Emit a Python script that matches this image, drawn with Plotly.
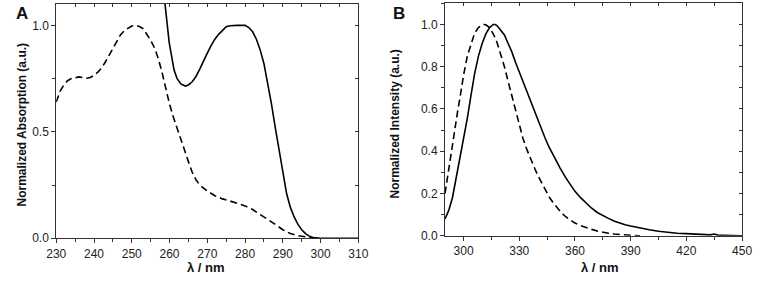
import plotly.graph_objects as go

# ---------------- Panel A: absorption ----------------
a_solid_x = [258.5, 259.1, 259.9, 260.5, 261.2, 262.0, 263.0, 264.2, 265.0, 266.0, 267.0, 268.0,
             269.0, 270.0, 271.0, 272.0, 273.0, 274.0, 275.0, 276.0, 277.0, 278.0, 279.0, 280.0,
             281.0, 282.0, 283.0, 284.0, 285.0, 286.0, 287.0, 288.0, 289.0, 290.0, 291.0, 292.0,
             293.0, 294.0, 295.0, 296.0, 297.0, 298.0, 299.0, 300.0, 305.0, 310.0]
a_solid_y = [1.15, 1.05, 0.92, 0.86, 0.79, 0.75, 0.725, 0.715, 0.72, 0.735, 0.76, 0.795,
             0.835, 0.87, 0.905, 0.935, 0.958, 0.978, 0.994, 0.998, 1.0, 1.0, 1.0, 1.0,
             0.99, 0.97, 0.935, 0.885, 0.82, 0.73, 0.63, 0.52, 0.41, 0.30, 0.21, 0.145,
             0.10, 0.065, 0.04, 0.022, 0.01, 0.003, 0.0, 0.0, 0.0, 0.0]

a_dash_x = [230, 231, 232, 233, 234, 235, 236, 237, 238, 239, 240, 241, 242, 243, 244, 245,
            246, 247, 248, 249, 250, 251, 252, 253, 254, 255, 256, 257, 258, 259, 260, 261,
            262, 263, 264, 265, 266, 267, 268, 269, 270, 272, 274, 276, 278, 280, 282, 284,
            286, 288, 290, 292, 294, 296, 298, 299]
a_dash_y = [0.64, 0.69, 0.72, 0.74, 0.75, 0.755, 0.758, 0.755, 0.752, 0.755, 0.765, 0.78,
            0.80, 0.828, 0.86, 0.895, 0.928, 0.955, 0.975, 0.988, 0.997, 1.0, 0.995, 0.985,
            0.96, 0.93, 0.895, 0.845, 0.78, 0.70, 0.63, 0.57, 0.515, 0.465, 0.41, 0.36,
            0.31, 0.275, 0.25, 0.235, 0.222, 0.20, 0.185, 0.175, 0.165, 0.152, 0.135, 0.113,
            0.09, 0.065, 0.04, 0.022, 0.012, 0.006, 0.001, 0.0]

# ---------------- Panel B: emission ----------------
b_solid_x = [290, 292, 294, 296, 298, 300, 302, 304, 306, 308, 310, 312, 314, 316, 317, 318,
             320, 322, 324, 326, 328, 330, 332, 334, 336, 338, 340, 342, 344, 346, 348, 350,
             352, 355, 358, 360, 363, 366, 369, 372, 375, 378, 381, 384, 387, 390, 395, 400,
             405, 410, 415, 420, 425, 430, 433, 435, 437, 440, 445, 450]
b_solid_y = [0.08, 0.12, 0.18, 0.27, 0.37, 0.46, 0.555, 0.665, 0.77, 0.85, 0.91, 0.955, 0.985,
             1.0, 1.0, 0.995, 0.975, 0.95, 0.91, 0.87, 0.82, 0.775, 0.725, 0.68, 0.635, 0.59,
             0.545, 0.50, 0.46, 0.42, 0.385, 0.35, 0.32, 0.275, 0.235, 0.21, 0.18, 0.155, 0.13,
             0.11, 0.095, 0.082, 0.07, 0.06, 0.052, 0.046, 0.036, 0.028, 0.021, 0.016, 0.012,
             0.01, 0.008, 0.005, 0.004, 0.008, 0.003, 0.002, 0.001, 0.0]

b_dash_x = [290, 291, 292, 293, 294, 295, 296, 297, 298, 299, 300, 302, 304, 306, 308, 310,
            311, 312, 314, 316, 318, 320, 322, 324, 326, 328, 330, 332, 334, 336, 338, 340,
            342, 344, 346, 348, 350, 352, 355, 358, 360, 363, 366, 369, 372, 375, 378, 381,
            384, 387, 390, 395]
b_dash_y = [0.20, 0.26, 0.32, 0.38, 0.43, 0.48, 0.54, 0.60, 0.65, 0.71, 0.76, 0.85, 0.91,
            0.96, 0.985, 0.998, 1.0, 0.998, 0.985, 0.955, 0.915, 0.86, 0.80, 0.73, 0.66, 0.59,
            0.52, 0.46, 0.41, 0.365, 0.325, 0.285, 0.25, 0.215, 0.185, 0.16, 0.135, 0.115,
            0.09, 0.07, 0.06, 0.048, 0.038, 0.03, 0.022, 0.016, 0.012, 0.008, 0.005, 0.003,
            0.002, 0.0]

a_xticks = [230, 240, 250, 260, 270, 280, 290, 300, 310]
a_yticks = [0.0, 0.5, 1.0]
b_xticks = [300, 330, 360, 390, 420, 450]
b_yticks = [0.0, 0.2, 0.4, 0.6, 0.8, 1.0]

W, H = 765, 283
FONT = "Liberation Sans, Arial, sans-serif"
FRAME = "#333333"
LW = 1.6

def px(x):
    return x / W

def py(y):
    return 1 - y / H

fig = go.Figure()

fig.add_trace(go.Scatter(x=a_solid_x, y=a_solid_y, mode="lines", xaxis="x", yaxis="y",
                         line=dict(color="black", width=LW), showlegend=False))
fig.add_trace(go.Scatter(x=a_dash_x, y=a_dash_y, mode="lines", xaxis="x", yaxis="y",
                         line=dict(color="black", width=LW, dash="7px,4px"), showlegend=False))
fig.add_trace(go.Scatter(x=b_solid_x, y=b_solid_y, mode="lines", xaxis="x2", yaxis="y2",
                         line=dict(color="black", width=LW), showlegend=False))
fig.add_trace(go.Scatter(x=b_dash_x, y=b_dash_y, mode="lines", xaxis="x2", yaxis="y2",
                         line=dict(color="black", width=LW, dash="7px,4px"), showlegend=False))
# empty traces to register the mirrored (inward-tick) axes
for xa, ya in [("x3", "y"), ("x", "y3"), ("x4", "y2"), ("x2", "y4")]:
    fig.add_trace(go.Scatter(x=[], y=[], xaxis=xa, yaxis=ya, showlegend=False, hoverinfo="skip"))

A_dom_x = [px(47.5), px(357.7)]
A_dom_y = [py(244.3), py(4.2)]
B_dom_x = [px(446.7), px(751.7)]
B_dom_y = [py(241.7), py(3.4)]

tickfont = dict(family=FONT, size=12, color="#222")
common = dict(showgrid=False, zeroline=False, showline=True, linecolor=FRAME, linewidth=1,
              tickcolor=FRAME, tickwidth=1, tickfont=tickfont)

fig.update_layout(
    width=W, height=H, margin=dict(l=0, r=0, t=0, b=0),
    plot_bgcolor="white", paper_bgcolor="white",
    xaxis=dict(domain=A_dom_x, anchor="y", range=[230, 310], tickvals=a_xticks,
               ticks="outside", ticklen=4, minor=dict(dtick=5, tick0=230, ticks="outside", ticklen=3, tickcolor=FRAME),
               **common),
    yaxis=dict(domain=A_dom_y, anchor="x", range=[0, 1.1], tickvals=a_yticks,
               ticktext=["0.0", "0.5", "1.0"],
               ticks="outside", ticklen=4, minor=dict(dtick=0.25, tick0=0, ticks="outside", ticklen=3, tickcolor=FRAME),
               **common),
    xaxis3=dict(overlaying="x", anchor="y", side="top", range=[230, 310], dtick=5, tick0=230,
                ticks="inside", ticklen=3, showticklabels=False, **common),
    yaxis3=dict(overlaying="y", anchor="x", side="right", range=[0, 1.1], dtick=0.25, tick0=0,
                ticks="inside", ticklen=3, showticklabels=False, **common),
    xaxis2=dict(domain=B_dom_x, anchor="y2", range=[290, 450], tickvals=b_xticks,
                ticks="outside", ticklen=4, minor=dict(dtick=15, tick0=300, ticks="outside", ticklen=3, tickcolor=FRAME),
                **common),
    yaxis2=dict(domain=B_dom_y, anchor="x2", range=[0, 1.1], tickvals=b_yticks,
                ticktext=["0.0", "0.2", "0.4", "0.6", "0.8", "1.0"],
                ticks="outside", ticklen=4, minor=dict(dtick=0.1, tick0=0, ticks="outside", ticklen=3, tickcolor=FRAME),
                **common),
    xaxis4=dict(overlaying="x2", anchor="y2", side="top", range=[290, 450], dtick=15, tick0=300,
                ticks="inside", ticklen=3, showticklabels=False, **common),
    yaxis4=dict(overlaying="y2", anchor="x2", side="right", range=[0, 1.1], dtick=0.1, tick0=0,
                ticks="inside", ticklen=3, showticklabels=False, **common),
)

title_font = dict(family=FONT, size=12, color="#111")
ann = [
    dict(text="<b>A</b>", x=px(4), y=py(14), xanchor="left", yanchor="middle",
         font=dict(family=FONT, size=17, color="#111")),
    dict(text="<b>B</b>", x=px(391), y=py(14), xanchor="left", yanchor="middle",
         font=dict(family=FONT, size=17, color="#111")),
    dict(text="<b>Normalized Absorption (a.u.)</b>", x=px(12), y=py(128), textangle=-90,
         xanchor="center", yanchor="middle", font=title_font),
    dict(text="<b>Normalized Intensity (a.u.)</b>", x=px(395), y=py(127), textangle=-90,
         xanchor="center", yanchor="middle", font=title_font),
    dict(text="<b>λ / nm</b>", x=px(201), y=py(274.5), xanchor="center", yanchor="middle",
         font=dict(family=FONT, size=13, color="#111")),
    dict(text="<b>λ / nm</b>", x=px(606), y=py(274.5), xanchor="center", yanchor="middle",
         font=dict(family=FONT, size=13, color="#111")),
]
for a in ann:
    a.update(xref="paper", yref="paper", showarrow=False)
fig.update_layout(annotations=ann)

fig.write_html("out.html", config={"displayModeBar": False, "staticPlot": True},
               post_script="document.body.style.margin='0';document.body.style.overflow='hidden';")
